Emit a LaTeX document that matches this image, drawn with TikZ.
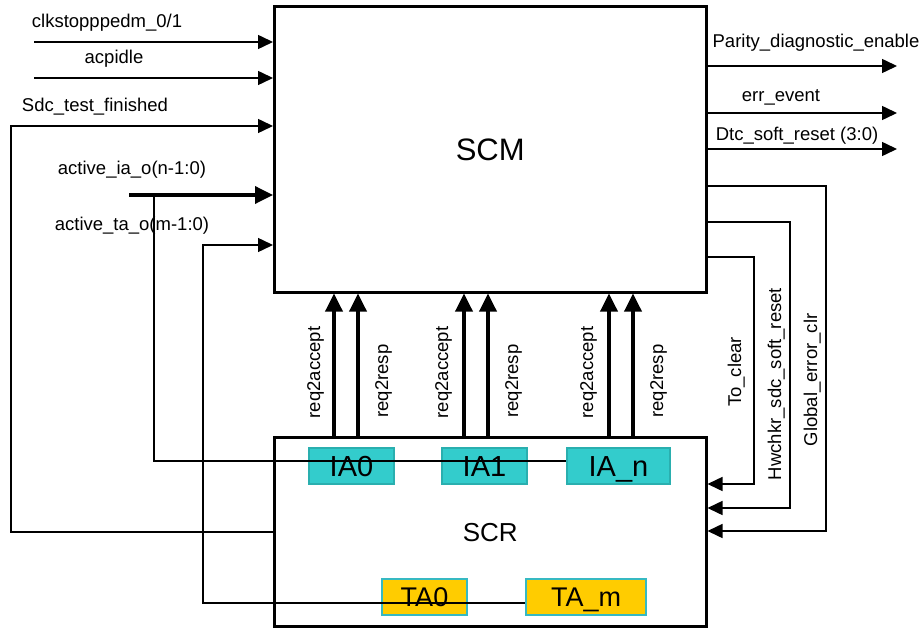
\documentclass[tikz,border=0pt]{standalone}
\usepackage{fontspec}
\setmainfont{Liberation Sans}
\usetikzlibrary{arrows.meta}
\definecolor{iafill}{HTML}{33CCCC}
\definecolor{iaedge}{HTML}{2AAFAF}
\definecolor{tafill}{HTML}{FFCC00}
\definecolor{taedge}{HTML}{36B9C2}
\tikzset{
  lbl/.style={font=\fontsize{18.5}{20}\selectfont, inner sep=0pt, anchor=base},
  vlbl/.style={lbl, rotate=90},
  sig/.style={line width=1.5pt, -{Triangle[length=15pt,width=14pt]}},
  wire/.style={line width=1.5pt},
  bus/.style={line width=3.5pt, -{Triangle[length=18pt,width=17pt]}},
  blk/.style={draw, line width=3pt, rectangle, inner sep=0pt, text depth=0pt},
  iabox/.style={draw=iaedge, fill=iafill, line width=1.5pt, minimum height=36pt, inner sep=0pt,
    font=\fontsize{29}{30}\selectfont, text height=20.8pt, text depth=0pt},
  tabox/.style={draw=taedge, fill=tafill, line width=2pt, minimum height=36pt, inner sep=0pt,
    font=\fontsize{27}{28}\selectfont, text height=19.3pt, text depth=0pt},
}
\begin{document}
\begin{tikzpicture}[x=1pt,y=-1pt]
\useasboundingbox (0,0) rectangle (923,628);
% main blocks
\node[blk, minimum width=431.5pt, minimum height=285.5pt, font=\fontsize{31}{32}\selectfont, text height=22pt]
  (scm) at (490.25,149.25) {SCM};
\node[blk, minimum width=431.5pt, minimum height=188.5pt, font=\fontsize{26}{27}\selectfont, text height=18.6pt]
  (scr) at (490.25,531.75) {SCR};
% agents
\node[iabox, minimum width=85pt]  (ia0) at (351.5,466) {IA0};
\node[iabox, minimum width=85pt]  (ia1) at (484.5,466) {IA1};
\node[iabox, minimum width=103pt] (ian) at (618.5,466) {IA\_n};
\node[tabox, minimum width=85pt]  (ta0) at (424.5,597) {TA0};
\node[tabox, minimum width=120pt] (tam) at (586,597) {TA\_m};

% free ends
\coordinate (in1) at (34,42);
\coordinate (in2) at (34,78);
\coordinate (iastart) at (129,195);
\coordinate (iabranch) at (154,195);
\coordinate (out1) at (897,66);
\coordinate (out2) at (897,113);
\coordinate (out3) at (897,149);

% inputs on the left
\draw[sig] (in1) -- (scm.west |- in1);
\draw[sig] (in2) -- (scm.west |- in2);
\draw[sig] (scr.west) -- (11,531.75) -- (11,126) -- (scm.west |- 0,126);
\draw[bus] (iastart) -- (scm.west |- iastart);
\draw[wire] (iabranch) -- (154,461) -- (ian.west |- 0,461);
\draw[sig] (tam.west |- 0,603) -- (203,603) -- (203,245) -- (scm.west |- 0,245);

% outputs on the right
\draw[sig] (scm.east |- out1) -- (out1);
\draw[sig] (scm.east |- out2) -- (out2);
\draw[sig] (scm.east |- out3) -- (out3);

% feedback SCM -> SCR
\draw[sig] (scm.east |- 0,186) -- (826,186) -- (826,531) -- (scr.east |- 0,531);
\draw[sig] (scm.east |- 0,222) -- (790,222) -- (790,508) -- (scr.east |- 0,508);
\draw[sig] (scm.east |- 0,257) -- (754,257) -- (754,484) -- (scr.east |- 0,484);

% request buses SCR -> SCM
\foreach \xx in {334,358,464,488,609,633}{
  \draw[bus] (\xx,0 |- scr.north) -- (\xx,0 |- scm.south);
}

% labels
\node[lbl] (l1) at (107,28) {clkstopppedm\_0/1};
\node[lbl] (l2) at (114,64) {acpidle};
\node[lbl] (l3) at (95,112) {Sdc\_test\_finished};
\node[lbl] (l4) at (132,175) {active\_ia\_o(n-1:0)};
\node[lbl] (l5) at (132,231) {active\_ta\_o(m-1:0)};
\node[lbl] (r1) at (816,48) {Parity\_diagnostic\_enable};
\node[lbl] (r2) at (781,102) {err\_event};
\node[lbl] (r3) at (797,141) {Dtc\_soft\_reset (3:0)};
\node[vlbl] (f1) at (741,372) {To\_clear};
\node[vlbl] (f2) at (781,384) {Hwchkr\_sdc\_soft\_reset};
\node[vlbl] (f3) at (817,380) {Global\_error\_clr};
\node[vlbl] (q1) at (320,372.5) {req2accept};
\node[vlbl] (q2) at (388,381) {req2resp};
\node[vlbl] (q3) at (448,372.5) {req2accept};
\node[vlbl] (q4) at (518,381) {req2resp};
\node[vlbl] (q5) at (593,372.5) {req2accept};
\node[vlbl] (q6) at (663,381) {req2resp};
\end{tikzpicture}
\end{document}
